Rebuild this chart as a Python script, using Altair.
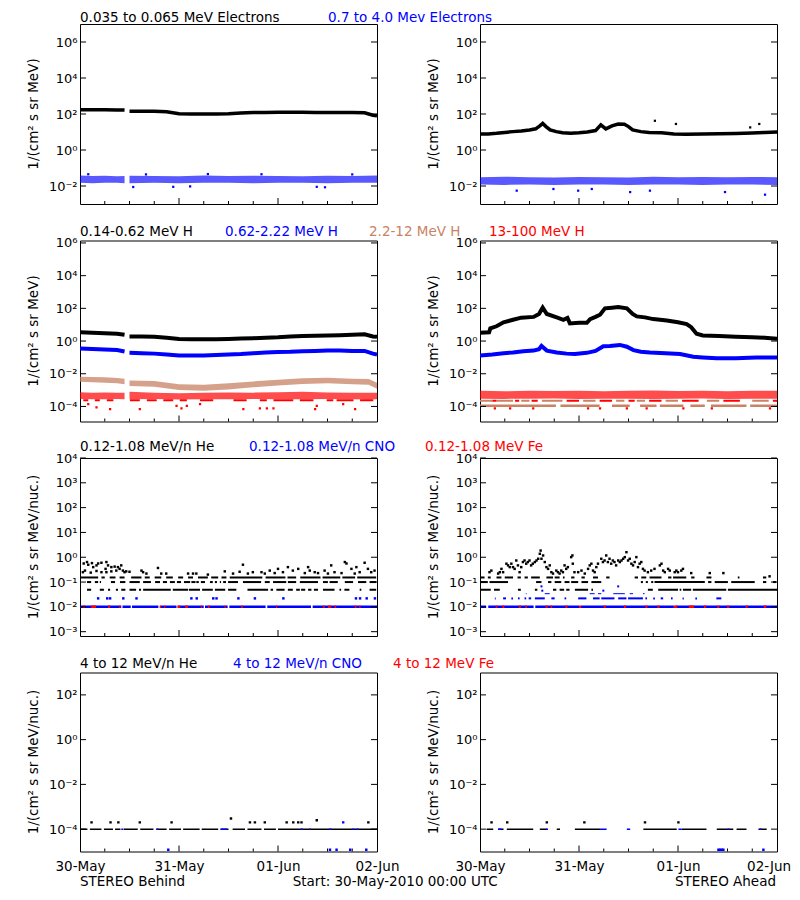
import altair as alt
import pandas as pd

FONT = "DejaVu Sans"
BLACK = "#000000"
BLUE = "#0000ff"
RED = "#ff0000"
BROWN = "#c88264"

# ------------------------------------------------------------------ text
ROW1_TITLES = ["0.035 to 0.065 MeV Electrons", "0.7 to 4.0 Mev Electrons"]
ROW2_TITLES = ["0.14-0.62 MeV H", "0.62-2.22 MeV H", "2.2-12 MeV H", "13-100 MeV H"]
ROW3_TITLES = ["0.12-1.08 MeV/n He", "0.12-1.08 MeV/n CNO", "0.12-1.08 MeV Fe"]
ROW4_TITLES = ["4 to 12 MeV/n He", "4 to 12 MeV/n CNO", "4 to 12 MeV Fe"]
YTITLE_A = "1/(cm\u00b2 s sr MeV)"
YTITLE_B = "1/(cm\u00b2 s sr MeV/nuc.)"
DAY_LABELS = ["30-May", "31-May", "01-Jun", "02-Jun"]
FOOTER = ["STEREO Behind", "Start: 30-May-2010 00:00 UTC", "STEREO Ahead"]

# ------------------------------------------------------------------ data (hours since 30-May 00:00)
# Row 1 - electrons
HB = [0, 3, 6, 9, 10.8, 12, 15, 18, 21, 24, 27, 30, 33, 36, 39, 42, 45, 48, 51, 54, 57, 60, 63, 66, 69, 71, 72]
E_LOW_B = [174, 172, 170, 168, 165, 142, 141, 140, 135, 103, 100, 100, 100, 102, 112, 120, 122, 124, 124, 124,
           123, 122, 122, 120, 118, 85, 80]
HBS = [0, 3, 6, 9, 10.8, 12, 18, 24, 30, 36, 42, 48, 54, 60, 66, 72]
E_HIGH_B_LO = [0.015, 0.014, 0.015, 0.015, 0.014, 0.014, 0.015, 0.014, 0.015, 0.015, 0.014, 0.015, 0.015,
               0.014, 0.015, 0.015]
E_HIGH_B_HI = [0.038, 0.036, 0.037, 0.035, 0.036, 0.037, 0.036, 0.035, 0.038, 0.036, 0.037, 0.036, 0.035,
               0.037, 0.036, 0.038]
E_HIGH_B_OUT_H = [12.9, 22.6, 26.7, 57.4, 59.4, 2.0, 16.0, 31.0, 44.0, 66.0]
E_HIGH_B_OUT_V = [0.0088, 0.009, 0.0095, 0.009, 0.0085, 0.045, 0.044, 0.046, 0.045, 0.044]

HA1 = [0, 2, 4, 6, 8, 10, 12, 13.5, 14.5, 15.2, 16, 17, 18.5, 20, 22, 24, 26, 28, 29.3, 30.5, 32, 33.5, 35,
       36, 37, 39, 41, 44, 47, 50, 54, 58, 62, 66, 69, 72]
E_LOW_A = [7.7, 7.8, 8.5, 9.5, 10.5, 11.5, 13, 15, 22, 30, 20, 13, 10.5, 9, 8.5, 9, 10, 12, 25, 15, 22, 28, 27,
           20, 13, 10.5, 9.5, 9, 7.8, 7.5, 7.8, 8, 8.3, 8.8, 9.5, 10]
E_LOW_A_OUT_H = [42.4, 47.5, 65.5, 67.7]
E_LOW_A_OUT_V = [42, 28, 18, 28]
HA = [0, 6, 12, 18, 24, 30, 36, 42, 48, 54, 60, 66, 72]
E_HIGH_A_LO = [0.012, 0.0115, 0.012, 0.0115, 0.012, 0.012, 0.0115, 0.012, 0.012, 0.0115, 0.012, 0.012, 0.0115]
E_HIGH_A_HI = [0.031, 0.033, 0.031, 0.030, 0.032, 0.031, 0.030, 0.033, 0.031, 0.032, 0.031, 0.032, 0.031]
E_HIGH_A_OUT_H = [8.9, 17.8, 23.8, 27.1, 36.4, 41.2, 59.4, 69.1]
E_HIGH_A_OUT_V = [0.0055, 0.0068, 0.0055, 0.0068, 0.0046, 0.0055, 0.0046, 0.0033]

# Row 2 - protons
H1_B = [3.4, 3.2, 3.0, 2.8, 2.4, 1.9, 1.9, 1.8, 1.6, 1.35, 1.3, 1.3, 1.3, 1.35, 1.45, 1.5, 1.6, 1.7, 1.9, 2.0,
        2.1, 2.2, 2.3, 2.4, 2.6, 1.9, 1.8]
H2_B = [0.35, 0.33, 0.30, 0.28, 0.23, 0.19, 0.18, 0.17, 0.15, 0.13, 0.13, 0.13, 0.14, 0.15, 0.16, 0.18, 0.20,
        0.21, 0.22, 0.24, 0.25, 0.26, 0.26, 0.25, 0.25, 0.17, 0.15]
HBB = [0, 3, 6, 9, 10.8, 12, 18, 24, 30, 36, 42, 48, 54, 60, 66, 70, 72]
H3_B_LO = [3.2e-3, 3.0e-3, 2.8e-3, 2.6e-3, 2.3e-3, 1.8e-3, 1.6e-3, 1.0e-3, 0.9e-3, 1.1e-3, 1.5e-3, 1.9e-3,
           2.4e-3, 2.6e-3, 2.3e-3, 2.1e-3, 1.2e-3]
H3_B_HI = [6.5e-3, 6.3e-3, 6.0e-3, 5.5e-3, 5.0e-3, 3.9e-3, 3.6e-3, 2.3e-3, 2.1e-3, 2.6e-3, 3.4e-3, 4.3e-3,
           5.3e-3, 5.6e-3, 5.0e-3, 4.7e-3, 2.8e-3]
H4_B_LO = [2.9e-4, 2.8e-4, 2.8e-4, 2.9e-4, 2.8e-4, 2.8e-4, 2.9e-4, 2.7e-4, 2.8e-4, 2.8e-4, 2.9e-4, 2.8e-4,
           2.8e-4, 2.9e-4, 2.8e-4, 2.7e-4, 2.8e-4]
H4_B_HI = [7.5e-4, 7.0e-4, 7.2e-4, 6.8e-4, 7.0e-4, 8.0e-4, 7.0e-4, 6.5e-4, 6.8e-4, 7.2e-4, 7.0e-4, 7.5e-4,
           8.0e-4, 7.2e-4, 7.0e-4, 6.8e-4, 7.0e-4]
H4_B_LEVEL = 2.4e-4
H4_B_LEVEL_SEGS = [(0.8, 2), (3.6, 4.8), (6.5, 8.1), (12.1, 14.5), (16.2, 18.6), (20.2, 22.6), (24.2, 25.9),
                   (29.1, 32.3), (37.2, 40.4), (43.6, 45.3), (46.9, 51.7), (53.3, 56.6), (59.8, 61.4),
                   (62.2, 66.3), (67.9, 71.1)]
H4_B_OUT_H = [2.0, 4.0, 7.3, 14.5, 23.4, 24.6, 25.9, 29.1, 39.6, 43.6, 45.3, 46.9, 57.0, 57.4, 63.8, 66.7]
H4_B_OUT_V = [1.4e-4, 8.7e-5, 6.9e-5, 6.9e-5, 1.1e-4, 7.5e-5, 1.1e-4, 1.4e-4, 6.9e-5, 7.5e-5, 7.5e-5, 7.5e-5,
              6.9e-5, 1.1e-4, 1.4e-4, 6.9e-5]

HA2 = [0, 2.2, 2.5, 4, 5.7, 8, 10, 13, 14.3, 15.2, 16.2, 18.6, 20.2, 21.2, 21.8, 24, 25.9, 26.7, 28, 29.1, 30.3,
       32, 33.5, 35.6, 37, 38, 40, 42, 45.3, 48, 50.1, 51.2, 52.5, 54, 58, 62, 66, 69, 72]
H1_A = [3.2, 3.4, 6, 8, 14, 20, 27, 30, 45, 110, 45, 28, 20, 26, 12, 13, 13, 22, 30, 41, 100, 110, 120, 100, 45,
        32, 28, 22, 18, 14, 11, 7, 2.8, 2.2, 2.0, 1.8, 1.7, 1.6, 1.4]
HA2B = [0, 3, 5.7, 8, 10.5, 13, 14.3, 14.9, 16.2, 18.6, 21, 23, 25.9, 28, 29.9, 31.5, 33.9, 35.6, 37.2, 39, 41.2,
        45, 48.5, 51.7, 54, 57.4, 62, 67, 72]
H2_A = [0.13, 0.15, 0.18, 0.20, 0.24, 0.26, 0.32, 0.50, 0.26, 0.20, 0.17, 0.16, 0.19, 0.25, 0.48, 0.50, 0.58,
        0.45, 0.28, 0.22, 0.20, 0.18, 0.16, 0.11, 0.10, 0.09, 0.09, 0.10, 0.10]
H4_A_LO = [3.0e-4, 2.9e-4, 3.0e-4, 3.1e-4, 2.9e-4, 3.0e-4, 3.0e-4, 2.9e-4, 3.0e-4, 3.1e-4, 2.9e-4, 3.0e-4, 3.0e-4]
H4_A_HI = [9.0e-4, 8.5e-4, 9.0e-4, 8.8e-4, 9.2e-4, 8.5e-4, 9.0e-4, 9.5e-4, 8.8e-4, 9.0e-4, 8.6e-4, 9.2e-4, 9.0e-4]
H3_A_LEVEL1 = 1.1e-4
H3_A_LEVEL1_SEGS = [(0, 18.4), (19.5, 29), (32, 36.3), (38.8, 42.8), (43.6, 49.3), (51, 54.5), (56, 64.6),
                    (65.5, 72)]
HA_LEVEL2 = 2.2e-4
H3_A_LEVEL2_SEGS = [(0, 3), (4, 8), (10, 12), (15, 20), (25, 28), (33, 35), (38, 40), (45, 48), (55, 58), (66, 70)]
H4_A_LEVEL2_SEGS = [(3, 4), (8.5, 9.5), (12.5, 14), (21, 24), (29, 32), (36, 37.5), (41, 44), (49, 53), (59, 63),
                    (71, 72)]
H4_A_OUT_H = [3.6, 7.3, 12.9, 26.2, 29.1, 35.6, 40.4, 49.3, 56.2, 70.3]
H4_A_OUT_V = [7.5e-5, 7.5e-5, 7.5e-5, 7.5e-5, 7.5e-5, 7.5e-5, 7.5e-5, 7.5e-5, 7.5e-5, 7.5e-5]

# Row 3 - suprathermal ions (quantised count levels)
LV05, LV10, LV15, LV001, LV002, LV003 = 0.049, 0.1, 0.153, 0.0101, 0.022, 0.034
HE_B_L05 = [(1.7, 2.7), (4.8, 5.8), (6.8, 7.3), (8.7, 9.2), (10, 11), (12, 13.6), (14.3, 14.8), (15.3, 22),
            (22.5, 26.2), (26.4, 29.1), (29.6, 32.2), (32.7, 35.2), (35.9, 37.9), (40.6, 45.6), (46.2, 46.8),
            (47.6, 49.6), (50.4, 51.6), (52.4, 53.3), (53.6, 54.6), (55.3, 56.1), (56.7, 57.7), (58.9, 61.7),
            (62.9, 63.3), (64.1, 65.3), (67.8, 68.2), (70.2, 71.8)]
HE_B_L10 = [(1.7, 2.7), (3.6, 4.4), (4.8, 5.1), (7.5, 8.5), (9.7, 11), (12, 14.5), (15.3, 17.2), (18.2, 19.4),
            (20.1, 21.1), (21.8, 23), (23.5, 24.5), (25.2, 26.7), (27, 28), (28.2, 28.8), (29.3, 30.3),
            (31.5, 32.2), (32.7, 33.2), (33.9, 34.2), (34.7, 35.4), (35.9, 38.3), (39.5, 43.9), (44.8, 46),
            (46.8, 50), (50.4, 52.4), (53.3, 57.7), (58.9, 60.1), (60.5, 62.5), (64.2, 66.2), (67.4, 69.4),
            (70.2, 71.8)]
HE_B_L15 = [(0, 4.4), (5.2, 6), (7.2, 8.6), (9.6, 10.8), (12.4, 14.9), (15.7, 16.9), (18.1, 19.7), (20.9, 22.5),
            (23.8, 25), (26.2, 27.4), (28.6, 31), (31.8, 33.5), (34.3, 35.5), (36.3, 44.2), (45, 49.8),
            (50.3, 52.4), (53.4, 58.3), (58.8, 63.1), (63.6, 66.7), (67.2, 71.8)]
HE_B_PTS_H = [0.7, 0.9, 1.2, 1.7, 2.0, 2.6, 2.9, 3.2, 4.0, 4.0, 4.4, 5.2, 5.2, 6.2, 6.4, 6.4, 6.8, 7.6, 7.6, 8.4,
              8.8, 9.2, 9.6, 10.0, 10.4, 10.8, 11.2, 12.0, 14.9, 15.3, 16.1, 18.9, 19.7, 20.9, 26.2, 27.4, 28.2,
              31.0, 35.1, 37.1, 38.7, 39.5, 40.7, 41.9, 44.0, 44.8, 46.0, 47.2, 48.0, 49.2, 50.4, 51.6, 52.9,
              54.5, 55.3, 55.7, 56.9, 57.7, 59.3, 60.1, 60.9, 61.7, 63.4, 64.2, 64.6, 65.8, 66.6, 67.0, 67.8,
              69.0, 69.8, 70.6, 71.4]
HE_B_PTS_V = [0.25, 0.56, 0.29, 0.64, 0.5, 0.24, 0.58, 0.4, 0.47, 0.28, 0.56, 0.6, 0.25, 0.34, 0.25, 0.64, 0.47,
              0.27, 0.4, 0.42, 0.29, 0.4, 0.34, 0.47, 0.29, 0.25, 0.27, 0.26, 0.29, 0.25, 0.22, 0.37, 0.22, 0.22,
              0.22, 0.22, 0.22, 0.2, 0.27, 0.22, 0.26, 0.5, 0.22, 0.25, 0.25, 0.22, 0.29, 0.23, 0.34, 0.25, 0.4,
              0.29, 0.34, 0.23, 0.4, 0.29, 0.25, 0.23, 0.29, 0.22, 0.47, 0.25, 0.23, 0.64, 0.56, 0.34, 0.22, 0.4,
              0.25, 0.6, 0.34, 0.25, 0.29]
CNO_B_L001 = [(0, 10), (10.3, 12.3), (12.6, 19), (19.5, 23.4), (23.8, 30), (30.3, 35.8), (36.2, 45), (45.4, 56),
              (56.4, 72)]
FE_B_L001 = [(0.7, 1.2), (2.7, 3.9), (6.8, 7.3), (9.5, 9.8), (19.3, 19.7), (20.4, 20.7), (23.6, 24.3),
             (25.5, 26.2), (29.3, 29.6), (31, 31.4), (35, 35.3), (39.1, 39.5), (47.5, 47.8), (58.9, 59.3),
             (60.1, 60.9), (61.7, 62.1), (66.6, 67), (67.7, 68)]
CNO_B_PTS_H = [4.4, 6.6, 7.3, 10.5, 13.7, 27.0, 28.3, 32.3, 33.1, 38.4, 42.4, 49.3, 66.9, 67.9, 69.5, 71.5]

HE_A_L05 = [(0, 2.6), (3.4, 4.8), (9.2, 9.9), (13.3, 13.9), (17.7, 18.5), (19.3, 20.4), (20.9, 21.7),
            (23, 26.2), (27, 27.4), (40.7, 41.9), (43.2, 48), (48.4, 48.8), (49.2, 51.2), (51.6, 59.7), (60.1, 72)]
HE_A_L10 = [(0, 1.9), (2.3, 6.8), (13.6, 14.9), (16.5, 17.3), (18.1, 19.7), (20.5, 21.7), (22.1, 23.8),
            (24.6, 26.2), (27, 29.4), (39, 39.5), (40.2, 40.7), (41.5, 42), (42.3, 54.5), (55.3, 56.1),
            (56.9, 60.1), (60.9, 66.6), (68.6, 69.4), (71, 71.8)]
HE_A_L15 = [(0, 1.1), (1.9, 2.6), (4, 5.2), (6, 8), (9.1, 9.9), (10.8, 11.6), (12.4, 14.5), (16.1, 17.7),
            (18.1, 19.3), (20.1, 20.5), (22.1, 22.9), (24.6, 25.4), (27.4, 28.6), (30.6, 31.4), (37.5, 38.3),
            (39.1, 40.3), (41.1, 44), (45.6, 46.4), (46.8, 50), (51.2, 52), (54.9, 56.1), (62.5, 62.9),
            (68.6, 69.4)]
HE_A_PTS_H = [2.3, 2.75, 4.4, 4.8, 5.2, 5.6, 6.4, 6.8, 7.2, 7.6, 8.0, 8.4, 8.8, 9.2, 9.6, 10.0, 10.4, 10.8, 11.2,
              11.6, 12.0, 12.4, 12.8, 13.3, 13.7, 14.1, 14.5, 14.7, 14.9, 15.3, 15.7, 16.1, 16.5, 16.9, 17.3,
              17.7, 18.5, 18.9, 19.3, 19.7, 20.1, 20.5, 20.9, 21.3, 22.1, 22.4, 22.5, 22.9, 23.8, 24.6, 25.4,
              26.2, 26.6, 27.0, 27.4, 27.8, 28.2, 28.6, 29.4, 29.8, 30.2, 30.6, 31.0, 31.4, 31.8, 32.2, 32.6,
              33.0, 33.5, 33.9, 34.3, 34.7, 35.1, 35.5, 35.9, 36.3, 36.7, 37.1, 37.5, 37.9, 38.3, 38.7, 39.1,
              39.5, 39.9, 40.7, 41.5, 42.3, 43.6, 44.0, 44.4, 44.8, 45.6, 46.0, 47.2, 47.6, 48.0, 48.8, 49.2,
              51.2, 55.7, 59.0, 70.2]
HE_A_PTS_V = [0.25, 0.29, 0.22, 0.25, 0.34, 0.25, 0.55, 0.47, 0.4, 0.55, 0.4, 0.34, 0.74, 0.47, 0.25, 0.4, 0.64,
              0.74, 0.55, 0.64, 0.74, 0.47, 0.55, 0.64, 0.74, 0.87, 1.38, 1.86, 0.87, 1.18, 0.64, 0.4, 0.34, 0.47,
              0.25, 0.22, 0.29, 0.25, 0.22, 0.29, 0.25, 0.47, 0.34, 0.4, 1.01, 1.18, 0.55, 0.25, 0.25, 0.29, 0.22,
              0.34, 0.47, 0.55, 0.29, 0.25, 0.4, 0.55, 0.87, 0.64, 0.74, 1.18, 0.64, 0.87, 0.55, 0.74, 0.64, 0.47,
              0.74, 0.64, 0.74, 0.87, 1.01, 1.6, 0.74, 0.87, 0.55, 0.47, 0.64, 1.01, 0.4, 0.55, 0.64, 0.34, 0.29,
              0.25, 0.29, 0.34, 0.47, 0.55, 0.29, 0.25, 0.34, 0.29, 0.25, 0.29, 0.25, 0.29, 0.34, 0.23, 0.23,
              0.23, 0.17]
CNO_A_L001 = [(0, 1.5), (2, 13), (13.4, 24), (24.5, 47), (47.4, 72)]
FE_A_L001 = [(3.8, 4.2), (5.4, 5.9), (9.4, 9.9), (11, 11.4), (15.9, 16.4), (17.1, 17.5), (20.7, 21.2), (24, 24.5),
             (30, 30.5), (34.9, 35.4), (40.1, 40.6), (43, 43.5), (47, 47.8), (50.6, 51.9), (54.3, 54.8),
             (57.5, 58), (59.9, 60.4), (64.4, 64.9), (68.8, 69.4)]
CNO_A_L002 = [(3.6, 3.8), (5.6, 6.3), (7.6, 8), (9.2, 9.6), (10.8, 11.2), (11.8, 12.4), (13.3, 15.7), (17.3, 18.1),
              (20.5, 20.9), (23.8, 25.8), (27.4, 29), (29.4, 32.6), (33.5, 35.5), (35.9, 39.5), (40.1, 40.5),
              (42, 42.4), (43.8, 44.4), (46.3, 46.7), (49.1, 49.4), (52.2, 52.6), (57.3, 58.5)]
CNO_A_L003 = [(11.1, 11.3), (15.7, 16.9), (26.6, 27.8), (28.6, 29.4), (32.3, 35.1), (36.3, 37.1), (39.5, 39.9)]
CNO_A_PTS_H = [14.9, 33.5, 15.1, 29.9]
CNO_A_PTS_V = [0.067, 0.067, 0.045, 0.045]

# Row 4 - energetic ions
LV4 = 1.0e-4
HE4_B_L = [(0, 1.8), (2.4, 5.2), (5.8, 8), (8.5, 9.8), (10.6, 14), (14.6, 17.8), (18.5, 21), (21.6, 24.5),
           (25, 29), (29.5, 33.5), (34.2, 36), (37, 40), (40.6, 44), (44.6, 47.5), (48, 72)]
CNO4_B_L = [(10, 10.5), (18.5, 19), (34, 35.6), (53.5, 54), (55.6, 56), (60.4, 61), (66, 66.5), (67, 67.5)]
HE4_B_PTS_H = [2.8, 7.4, 9.3, 14.5, 22.2, 36.6, 41.2, 42.4, 44.8, 50.1, 51.7, 52.9, 53.7, 57.4, 69.9]
HE4_B_PTS_V = [2e-4, 2e-4, 2e-4, 2e-4, 2e-4, 3e-4, 2e-4, 2e-4, 2e-4, 2e-4, 2e-4, 2e-4, 2e-4, 2.5e-4, 2e-4]
CNO4_B_PTS_H = [63.8, 21.4, 60.6, 62.2, 65.5, 69.4]
CNO4_B_PTS_V = [2e-4, 1.2e-5, 1.2e-5, 1.2e-5, 1.2e-5, 1.2e-5]

HE4_A_L = [(1.6, 3.2), (4.4, 5.7), (6.5, 12.9), (14.5, 16.2), (18.6, 19.4), (23, 29.1), (39.6, 47.7),
           (48.9, 54.9), (57.4, 61.4), (62.2, 64.6), (67.5, 69.5)]
CNO4_A_L = [(4.4, 5.2), (16, 16.5), (29.1, 30.7), (35.6, 36.4), (48.1, 48.9), (60, 60.5), (67.8, 68.3)]
HE4_A_PTS_H = [2.8, 6.6, 16.2, 25.3, 40.0, 48.1]
HE4_A_PTS_V = [2e-4, 2e-4, 2e-4, 2e-4, 2e-4, 2e-4]
CNO4_A_PTS_H = [57.8, 58.2, 58.6, 59.0, 68.7]
CNO4_A_PTS_V = [1.2e-5, 1.2e-5, 1.2e-5, 1.2e-5, 1.2e-5]

# ------------------------------------------------------------------ layout / styling
W = 297
HEIGHTS = [180, 181, 178, 179]
YDOMS = [[1e-3, 1e7], [1.2e-5, 1.41e6], [6.7e-4, 1e4], [1e-5, 1e3]]
YTICKS = [[1e-2, 1, 1e2, 1e4, 1e6], [1e-4, 1e-2, 1, 1e2, 1e4, 1e6],
          [1e-3, 1e-2, 1e-1, 1, 1e1, 1e2, 1e3, 1e4], [1e-4, 1e-2, 1, 1e2]]
X_MINOR = [6, 12, 18, 30, 36, 42, 54, 60, 66]
X_MAJOR = [24, 48]
SUP = {"-": "\u207b", "0": "\u2070", "1": "\u00b9", "2": "\u00b2", "3": "\u00b3", "4": "\u2074",
       "5": "\u2075", "6": "\u2076", "7": "\u2077", "8": "\u2078", "9": "\u2079"}
TS = 13.5


def sup(n):
    return "".join(SUP[c] for c in str(n))


def ylabel_expr(ticks):
    import math
    parts = []
    for t in ticks:
        e = int(round(math.log10(t)))
        parts.append(f"round(log(datum.value)/LN10)=={e}?'10{sup(e)}'")
    return ":".join(parts) + ":''"


XLABEL_EXPR = ("datum.value==0?'%s':datum.value==24?'%s':datum.value==48?'%s':'%s'" % tuple(DAY_LABELS))


def panel(row, items, ytitle, texts, xlabels=None):
    H = HEIGHTS[row]
    xs = alt.Scale(domain=[0, 72], nice=False, zero=False)
    ys = alt.Scale(type="log", domain=YDOMS[row], nice=False)
    if xlabels:
        xaxis = alt.Axis(values=xlabels, labelExpr=XLABEL_EXPR, ticks=False, tickSize=0, domain=False,
                         grid=False, title=None, labelPadding=19, labelBaseline="alphabetic", labelFont=FONT,
                         labelFontSize=TS, labelColor="black", labelFlush=False, labelOverlap=False)
    else:
        xaxis = None
    yaxis = alt.Axis(values=YTICKS[row], labelExpr=ylabel_expr(YTICKS[row]), ticks=False, tickSize=0,
                     domain=False, grid=False, title=None, labelPadding=3, labelFont=FONT, labelFontSize=13,
                     labelColor="black", labelOverlap=False, labelFlush=False)

    def X(f):
        return alt.X(f"{f}:Q", scale=xs, axis=xaxis)

    def Y(f):
        return alt.Y(f"{f}:Q", scale=ys, axis=yaxis)

    layers = []
    for it in items:
        k = it["kind"]
        if k == "line":
            df = pd.DataFrame({"h": it["h"], "v": it["v"]})
            df["seg"] = [0 if (not it.get("gap") or t < 11.5) else 1 for t in it["h"]]
            layers.append(alt.Chart(df).mark_line(color=it["c"], strokeWidth=it["sw"], clip=True)
                          .encode(x=X("h"), y=Y("v"), detail="seg:N"))
        elif k == "band":
            df = pd.DataFrame({"h": it["h"], "lo": it["lo"], "hi": it["hi"]})
            df["seg"] = [0 if (not it.get("gap") or t < 11.5) else 1 for t in it["h"]]
            layers.append(alt.Chart(df).mark_area(color=it["c"], opacity=it.get("op", 0.65), clip=True)
                          .encode(x=X("h"), y=Y("lo"), y2="hi", detail="seg:N"))
        elif k == "segs":
            df = pd.DataFrame({"a": [s[0] for s in it["s"]], "b": [s[1] for s in it["s"]],
                               "v": [it["v"]] * len(it["s"])})
            layers.append(alt.Chart(df).mark_rule(color=it["c"], strokeWidth=it.get("sw", 2), clip=True)
                          .encode(x=X("a"), x2="b", y=Y("v")))
        elif k == "pts":
            df = pd.DataFrame({"h": it["h"], "v": it["v"]})
            layers.append(alt.Chart(df).mark_square(color=it["c"], size=it.get("size", 5), opacity=1,
                                                    clip=True)
                          .encode(x=X("h"), y=Y("v")))
    # inward tick marks
    layers.append(alt.Chart(pd.DataFrame({"h": X_MINOR})).mark_rule(color="black", strokeWidth=1)
                  .encode(x=X("h"), y=alt.value(H), y2=alt.value(H - 3)))
    layers.append(alt.Chart(pd.DataFrame({"h": X_MAJOR})).mark_rule(color="black", strokeWidth=1)
                  .encode(x=X("h"), y=alt.value(H), y2=alt.value(H - 6)))
    yt = pd.DataFrame({"v": YTICKS[row]})
    layers.append(alt.Chart(yt).mark_rule(color="black", strokeWidth=1)
                  .encode(y=Y("v"), x=alt.value(0), x2=alt.value(6)))
    layers.append(alt.Chart(yt).mark_rule(color="black", strokeWidth=1)
                  .encode(y=Y("v"), x=alt.value(W - 6), x2=alt.value(W)))
    # y title
    layers.append(alt.Chart(pd.DataFrame({"t": [ytitle]}))
                  .mark_text(angle=270, align="center", baseline="middle", font=FONT, fontSize=TS, color="black")
                  .encode(x=alt.value(-46), y=alt.value(H / 2), text="t:N"))
    for (t, c, px, py, al) in texts:
        layers.append(alt.Chart(pd.DataFrame({"t": [t]}))
                      .mark_text(align=al, baseline="alphabetic", font=FONT, fontSize=TS, color=c)
                      .encode(x=alt.value(px), y=alt.value(py), text="t:N"))
    return alt.layer(*layers).properties(width=W, height=H)


# ------------------------------------------------------------------ panels
p1L = panel(0, [
    {"kind": "band", "h": HBS, "lo": E_HIGH_B_LO, "hi": E_HIGH_B_HI, "c": BLUE, "gap": True, "op": 0.65},
    {"kind": "pts", "h": E_HIGH_B_OUT_H, "v": E_HIGH_B_OUT_V, "c": BLUE},
    {"kind": "line", "h": HB, "v": E_LOW_B, "c": BLACK, "sw": 3.5, "gap": True},
], YTITLE_A, [(ROW1_TITLES[0], BLACK, 0, -2, "left"), (ROW1_TITLES[1], BLUE, 248, -2, "left")])
p1R = panel(0, [
    {"kind": "band", "h": HA, "lo": E_HIGH_A_LO, "hi": E_HIGH_A_HI, "c": BLUE, "op": 0.65},
    {"kind": "pts", "h": E_HIGH_A_OUT_H, "v": E_HIGH_A_OUT_V, "c": BLUE},
    {"kind": "line", "h": HA1, "v": E_LOW_A, "c": BLACK, "sw": 3.5},
    {"kind": "pts", "h": E_LOW_A_OUT_H, "v": E_LOW_A_OUT_V, "c": BLACK},
], YTITLE_A, [])

p2L = panel(1, [
    {"kind": "segs", "s": H4_B_LEVEL_SEGS, "v": H4_B_LEVEL, "c": RED, "sw": 2},
    {"kind": "pts", "h": H4_B_OUT_H, "v": H4_B_OUT_V, "c": RED},
    {"kind": "band", "h": HBB, "lo": H4_B_LO, "hi": H4_B_HI, "c": RED, "gap": True, "op": 0.7},
    {"kind": "band", "h": HBB, "lo": H3_B_LO, "hi": H3_B_HI, "c": BROWN, "gap": True, "op": 0.75},
    {"kind": "line", "h": HB, "v": H2_B, "c": BLUE, "sw": 4, "gap": True},
    {"kind": "line", "h": HB, "v": H1_B, "c": BLACK, "sw": 4, "gap": True},
], YTITLE_A, [(ROW2_TITLES[0], BLACK, 0, -5, "left"), (ROW2_TITLES[1], BLUE, 145, -5, "left"),
              (ROW2_TITLES[2], BROWN, 289, -5, "left"), (ROW2_TITLES[3], RED, 409, -5, "left")])
p2R = panel(1, [
    {"kind": "segs", "s": H3_A_LEVEL1_SEGS, "v": H3_A_LEVEL1, "c": BROWN, "sw": 2.5},
    {"kind": "segs", "s": H3_A_LEVEL2_SEGS, "v": HA_LEVEL2, "c": BROWN, "sw": 2},
    {"kind": "segs", "s": H4_A_LEVEL2_SEGS, "v": HA_LEVEL2, "c": RED, "sw": 2},
    {"kind": "pts", "h": H4_A_OUT_H, "v": H4_A_OUT_V, "c": RED},
    {"kind": "band", "h": HA, "lo": H4_A_LO, "hi": H4_A_HI, "c": RED, "op": 0.7},
    {"kind": "line", "h": HA2B, "v": H2_A, "c": BLUE, "sw": 4},
    {"kind": "line", "h": HA2, "v": H1_A, "c": BLACK, "sw": 4},
], YTITLE_A, [])

p3L = panel(2, [
    {"kind": "segs", "s": HE_B_L05, "v": LV05, "c": BLACK},
    {"kind": "segs", "s": HE_B_L10, "v": LV10, "c": BLACK},
    {"kind": "segs", "s": HE_B_L15, "v": LV15, "c": BLACK},
    {"kind": "pts", "h": HE_B_PTS_H, "v": HE_B_PTS_V, "c": BLACK, "size": 6},
    {"kind": "segs", "s": CNO_B_L001, "v": LV001, "c": BLUE, "sw": 2.5},
    {"kind": "segs", "s": FE_B_L001, "v": LV001, "c": RED, "sw": 2.5},
    {"kind": "pts", "h": CNO_B_PTS_H, "v": [LV002] * len(CNO_B_PTS_H), "c": BLUE, "size": 6},
], YTITLE_B, [(ROW3_TITLES[0], BLACK, 0, -7, "left"), (ROW3_TITLES[1], BLUE, 169, -7, "left"),
              (ROW3_TITLES[2], RED, 345, -7, "left")])
p3R = panel(2, [
    {"kind": "segs", "s": HE_A_L05, "v": LV05, "c": BLACK},
    {"kind": "segs", "s": HE_A_L10, "v": LV10, "c": BLACK},
    {"kind": "segs", "s": HE_A_L15, "v": LV15, "c": BLACK},
    {"kind": "pts", "h": HE_A_PTS_H, "v": HE_A_PTS_V, "c": BLACK, "size": 6},
    {"kind": "segs", "s": CNO_A_L001, "v": LV001, "c": BLUE, "sw": 2.5},
    {"kind": "segs", "s": FE_A_L001, "v": LV001, "c": RED, "sw": 2.5},
    {"kind": "segs", "s": CNO_A_L002, "v": LV002, "c": BLUE},
    {"kind": "segs", "s": CNO_A_L003, "v": LV003, "c": BLUE, "sw": 1},
    {"kind": "pts", "h": CNO_A_PTS_H, "v": CNO_A_PTS_V, "c": BLUE, "size": 4},
], YTITLE_B, [])

p4L = panel(3, [
    {"kind": "segs", "s": HE4_B_L, "v": LV4, "c": BLACK, "sw": 1.5},
    {"kind": "segs", "s": CNO4_B_L, "v": LV4, "c": BLUE, "sw": 1.5},
    {"kind": "pts", "h": HE4_B_PTS_H, "v": HE4_B_PTS_V, "c": BLACK, "size": 6},
    {"kind": "pts", "h": CNO4_B_PTS_H, "v": CNO4_B_PTS_V, "c": BLUE, "size": 6},
], YTITLE_B, [(ROW4_TITLES[0], BLACK, 0, -5, "left"), (ROW4_TITLES[1], BLUE, 153, -5, "left"),
              (ROW4_TITLES[2], RED, 313, -5, "left"), (FOOTER[0], BLACK, 0, 213, "left"),
              (FOOTER[1], BLACK, 212.7, 213, "left")], xlabels=[0, 24, 48, 72])
p4R = panel(3, [
    {"kind": "segs", "s": HE4_A_L, "v": LV4, "c": BLACK, "sw": 1.5},
    {"kind": "segs", "s": CNO4_A_L, "v": LV4, "c": BLUE, "sw": 1.5},
    {"kind": "pts", "h": HE4_A_PTS_H, "v": HE4_A_PTS_V, "c": BLACK, "size": 6},
    {"kind": "pts", "h": CNO4_A_PTS_H, "v": CNO4_A_PTS_V, "c": BLUE, "size": 6},
], YTITLE_B, [(FOOTER[2], BLACK, 296, 213, "right"), (DAY_LABELS[3], BLACK, W + 14, HEIGHTS[3] + 19, "right")],
    xlabels=[0, 24, 48])

chart = (alt.concat(p1L, p1R, p2L, p2R, p3L, p3R, p4L, p4R, columns=2,
                    spacing={"row": 36.5, "column": 103}, bounds="flush")
         .properties(padding={"left": 18, "top": 2, "right": 0, "bottom": 0}, background="white")
         .configure_view(stroke="black", strokeWidth=1))

chart.save("out.html", embed_options={"renderer": "svg", "actions": False})
